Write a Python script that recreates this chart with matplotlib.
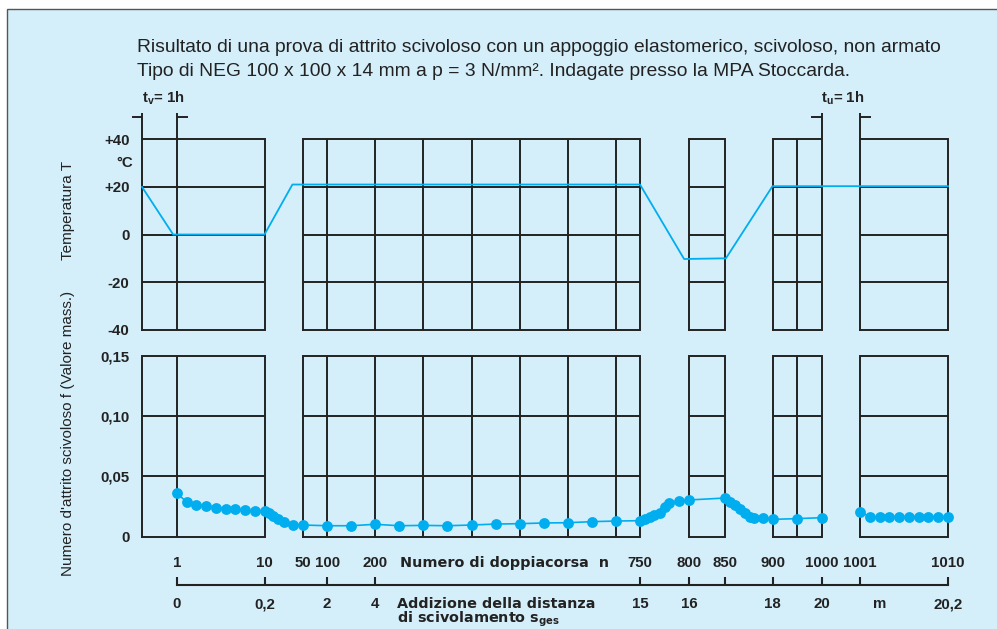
import numpy as np
import matplotlib
matplotlib.use("Agg")
import matplotlib.pyplot as plt
from matplotlib.patches import Rectangle

W, H = 997, 629

# --- data ---
# temperature course (x in double strokes n, storage hour mapped to n in [0, 1])
temp_n = [0, 0.89, 10, 39, 750, 795, 851, 900, 1000, 1001, 1010]
temp_T = [20, 0, 0, 21, 21, -10.3, -10, 20.3, 20.3, 20.3, 20.3]

# friction coefficient, first run n = 1 ... 1000
fric_n1 = [1, 2, 3, 4, 5, 6, 7, 8, 9, 10,
           15, 19, 24, 30, 40,
           50, 100, 150, 200, 250, 300, 350, 400, 450, 500, 550, 600, 650, 700, 750,
           755, 760, 764, 770, 775, 780, 790, 800,
           850, 855, 860, 866, 871, 876, 880, 890, 900, 950, 1000]
fric_f1 = [0.036, 0.0288, 0.0266, 0.0255, 0.0241, 0.0232, 0.0227, 0.0219, 0.0216, 0.0216,
           0.0194, 0.0172, 0.0149, 0.0122, 0.0100,
           0.0097, 0.0091, 0.0091, 0.0103, 0.0091, 0.0094, 0.0091, 0.0097, 0.0105, 0.0108,
           0.0114, 0.0116, 0.0125, 0.0130, 0.0133,
           0.0144, 0.0160, 0.0180, 0.0200, 0.0250, 0.0277, 0.0294, 0.0305,
           0.0321, 0.0290, 0.0263, 0.0227, 0.0194, 0.0160, 0.0153, 0.0153, 0.0144, 0.0150, 0.0158]
# after one hour pause, n = 1001 ... 1010
fric_n2 = [1001, 1002, 1003, 1004, 1005, 1006, 1007, 1008, 1009, 1010]
fric_f2 = [0.0208, 0.0166, 0.0160, 0.0166, 0.0166, 0.0166, 0.0166, 0.0166, 0.0166, 0.0166]

panels = [(0, 10), (50, 750), (800, 850), (900, 1000), (1001, 1010)]
inner_v = [[1], [100, 200, 300, 400, 500, 600, 700], [], [950], []]

n_ticks = [1, 10, 100, 200, 750, 800, 850, 900, 1000, 1001, 1010]
n_labels = [(1, "1"), (10, "10"), (50, "50"), (100, "100"), (200, "200"), (750, "750"),
            (800, "800"), (850, "850"), (900, "900"), (1000, "1000"), (1001, "1001"),
            (1010, "1010")]
s_labels = [(1, "0"), (10, "0,2"), (100, "2"), (200, "4"), (750, "15"), (800, "16"),
            (900, "18"), (1000, "20"), (1003, "m"), (1010, "20,2")]

# broken x axis: piecewise linear position for n
N_BR = np.array([-10, 0, 1, 10, 50, 750, 800, 850, 900, 1000, 1001, 1010, 1030])
X_BR = np.array([-208, 142, 177, 264.5, 303, 640, 689, 725, 772.5, 822, 860, 948, 1143.6])


def fwd(n):
    return np.interp(n, N_BR, X_BR)


def inv(x):
    return np.interp(x, X_BR, N_BR)


BG = "#d4eefa"
BLUE = "#00aeef"
INK = "#222222"
FS = 10.8
plt.rcParams['font.family'] = ['Liberation Sans', 'DejaVu Sans']

fig = plt.figure(figsize=(W / 100, H / 100), dpi=100, facecolor="white")
fig.patches.append(Rectangle((7 / W, -0.1), 1.2, 1 - 9.5 / H + 0.1, transform=fig.transFigure,
                             facecolor=BG, edgecolor="#555555", lw=1.0, zorder=-10))


def box(top, bottom):
    return [142 / W, 1 - bottom / H, (948 - 142) / W, (bottom - top) / H]


ax_t = fig.add_axes(box(139.3, 329.7))
ax_f = fig.add_axes(box(356, 536.7))
ax_x = fig.add_axes(box(545, 585))

for ax in (ax_t, ax_f, ax_x):
    ax.set_xscale('function', functions=(fwd, inv))
    ax.set_xlim(0, 1010)
    ax.set_facecolor("none")
    for s in ax.spines.values():
        s.set_visible(False)

ax_t.set_ylim(-40, 40)
ax_f.set_ylim(0, 0.15)

lw = 1.4
for ax, lo, hi, hl in ((ax_t, -40, 40, [-20, 0, 20]), (ax_f, 0, 0.15, [0.05, 0.10])):
    for (a, b), vs in zip(panels, inner_v):
        ax.plot([a, b, b, a, a], [lo, lo, hi, hi, lo], color=INK, lw=lw, clip_on=False,
                solid_joinstyle="miter")
        if vs:
            ax.vlines(vs, lo, hi, color=INK, lw=lw, clip_on=False)
        ax.hlines(hl, a, b, color=INK, lw=lw, clip_on=False)
    ax.set_xticks([])
    ax.tick_params(axis="y", length=0, pad=9)

ax_t.set_yticks([-40, -20, 0, 20, 40], ["-40", "-20", "0", "+20", "+40"],
               fontweight="bold", fontsize=FS, color=INK)
ax_f.set_yticks([0, 0.05, 0.10, 0.15], ["0", "0,05", "0,10", "0,15"],
               fontweight="bold", fontsize=FS, color=INK)
ax_t.text(-0.011, 30, "°C", transform=ax_t.get_yaxis_transform(), ha="right", va="center",
          fontweight="bold", fontsize=FS, color=INK)

# temperature and friction curves
ax_t.plot(temp_n, temp_T, color=BLUE, lw=1.3, clip_on=False, zorder=5)
for nn, ff in ((fric_n1, fric_f1), (fric_n2, fric_f2)):
    ax_f.plot(nn, ff, color=BLUE, lw=1.2, marker="o", ms=7.8, mec="none", clip_on=False,
              zorder=5)

# one hour brackets
for a, b, l0, r1 in ((0, 1, -0.29, 2.13), (1000, 1001, 977.8, 1002.1)):
    ax_t.vlines([a, b], 40, 51, color=INK, lw=lw, clip_on=False)
    ax_t.hlines(49.5, l0, a, color=INK, lw=lw, clip_on=False)
    ax_t.hlines(49.5, b, r1, color=INK, lw=lw, clip_on=False)


def px(x, y):
    return x / W, 1 - y / H


fig.text(*px(163, 98), r"t$_{\mathregular{v}}$= 1h", ha="center", va="center",
         fontweight="bold", fontsize=FS, color=INK)
fig.text(*px(843, 98), r"t$_{\mathregular{u}}$= 1h", ha="center", va="center",
         fontweight="bold", fontsize=FS, color=INK)

# lower axis with the two label rows
ax_x.set_ylim(0, 1)
ax_x.spines["bottom"].set_visible(True)
ax_x.spines["bottom"].set_bounds(1, 1010)
ax_x.spines["bottom"].set_color(INK)
ax_x.spines["bottom"].set_linewidth(1.5)
ax_x.set_xticks(n_ticks, [""] * len(n_ticks))
ax_x.tick_params(axis="x", direction="in", length=6, width=1.5, color=INK)
ax_x.set_yticks([])
tr = ax_x.get_xaxis_transform()
for n, t in n_labels:
    ax_x.text(n, 0.55, t, transform=tr, ha="center", va="center", fontweight="bold",
              fontsize=FS, color=INK, clip_on=False)
for n, t in s_labels:
    ax_x.text(n, -0.48, t, transform=tr, ha="center", va="center", fontweight="bold",
              fontsize=FS, color=INK, clip_on=False)

fig.text(*px(400, 563), "Numero di doppiacorsa  n", ha="left", va="center",
         family="DejaVu Sans", fontweight="bold", fontsize=10.4, color=INK)
fig.text(*px(397, 604), "Addizione della distanza", ha="left", va="center",
         family="DejaVu Sans", fontweight="bold", fontsize=10.4, color=INK)
fig.text(*px(397, 619), r"di scivolamento s$_{\mathregular{ges}}$", ha="left", va="center",
         family="DejaVu Sans", fontweight="bold", fontsize=10.4, color=INK)

# titles and axis names
fig.text(*px(137, 48), "Risultato di una prova di attrito scivoloso con un appoggio "
         "elastomerico, scivoloso, non armato", ha="left", va="center", fontsize=13.9,
         color="#222222")
fig.text(*px(137, 72), "Tipo di NEG 100 x 100 x 14 mm a p = 3 N/mm². Indagate presso "
         "la MPA Stoccarda.", ha="left", va="center", fontsize=13.9, color="#222222")
fig.text(*px(68, 210), "Temperatura T", rotation=90, ha="center", va="center",
         fontsize=11, color="#222222")
fig.text(*px(68, 433), "Numero d'attrito scivoloso f (Valore mass.)", rotation=90,
         ha="center", va="center", fontsize=11, color="#222222")

fig.savefig("out.png", dpi=100, facecolor="white")
